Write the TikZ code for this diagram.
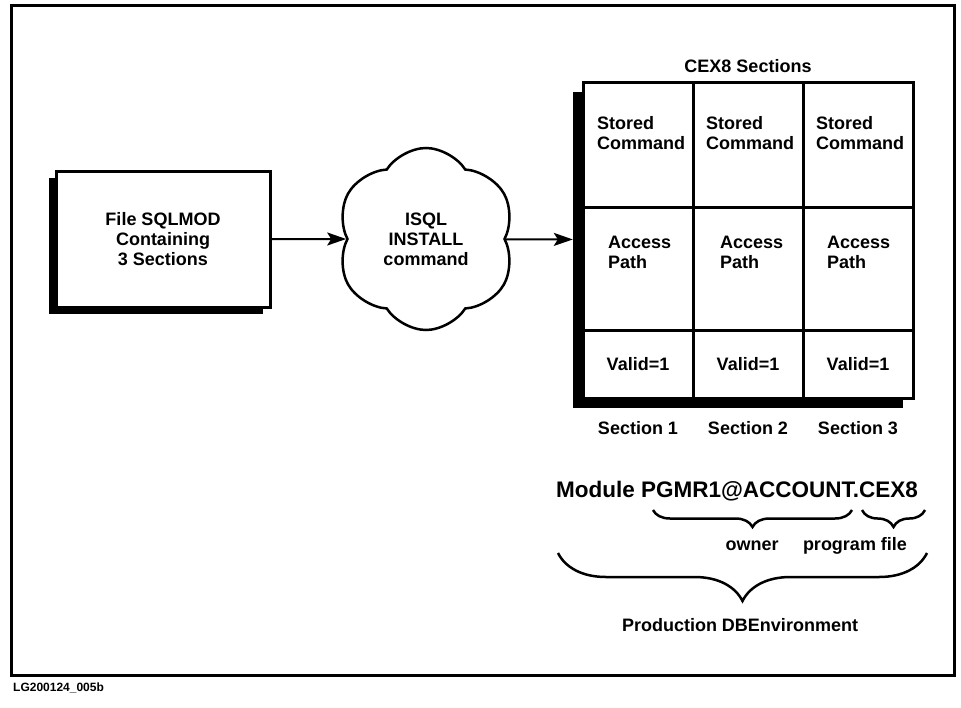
\documentclass[tikz,border=0pt]{standalone}
\usepackage{fontspec}
\setmainfont{Liberation Sans}
\usepackage{tikz}
\usetikzlibrary{shapes.symbols, arrows.meta, positioning, fit, backgrounds, shadows, decorations.pathreplacing}

\begin{document}
\begin{tikzpicture}[
    x=1pt, y=-1pt,
    font=\bfseries\fontsize{18}{20}\selectfont,
    frame/.style={draw, line width=3pt},
    filebox/.style={rectangle, draw, line width=3pt, fill=white, 
                minimum width=214pt, minimum height=136pt, align=center,
                drop shadow={shadow xshift=-7pt, shadow yshift=-7pt, fill=black, opacity=1}},
    cmdcloud/.style={cloud, draw, line width=2.5pt, cloud puffs=6, cloud puff arc=115,
                minimum width=180pt, minimum height=182pt, align=center, inner sep=0pt},
    cell/.style={rectangle, draw, line width=3pt, minimum width=110pt, 
                inner sep=0pt, outer sep=0pt},
    celltext/.style={inner sep=0pt, align=left},
    caption/.style={inner sep=0pt},
    underbrace/.style={decorate, decoration={brace, mirror, amplitude=#1}, line width=2.5pt},
    arrow/.style={-{Stealth[length=19pt, width=13pt, inset=4pt]}, line width=2pt}
]
    \useasboundingbox (0,0) rectangle (961,707);
    \draw[frame] (11,5) rectangle (954,675);

    % Nodes
    \node[filebox] (sqlmod) at (163,239) {File SQLMOD\\Containing\\3 Sections};
    \node[cmdcloud] (isql) at (426,239) {ISQL\\INSTALL\\command};

    % Section grid
    \node[cell, minimum height=125pt, anchor=north west] (c11) at (583,82) {};
    \node[cell, minimum height=125pt, right=0pt of c11] (c12) {};
    \node[cell, minimum height=125pt, right=0pt of c12] (c13) {};
    \node[cell, minimum height=123pt, below=0pt of c11] (c21) {};
    \node[cell, minimum height=123pt, below=0pt of c12] (c22) {};
    \node[cell, minimum height=123pt, below=0pt of c13] (c23) {};
    \node[cell, minimum height=68pt, below=0pt of c21] (c31) {Valid=1};
    \node[cell, minimum height=68pt, below=0pt of c22] (c32) {Valid=1};
    \node[cell, minimum height=68pt, below=0pt of c23] (c33) {Valid=1};
    \begin{scope}[on background layer]
        \node[fit=(c11)(c33), inner sep=0pt, fill=white,
              drop shadow={shadow xshift=-10pt, shadow yshift=-10pt, fill=black, opacity=1}] (sections) {};
    \end{scope}

    \node[celltext, below right=34pt and 14pt of c11.north west] (stored1) {Stored\\Command};
    \node[celltext, below right=34pt and 13pt of c12.north west] (stored2) {Stored\\Command};
    \node[celltext, below right=34pt and 13pt of c13.north west] (stored3) {Stored\\Command};
    \node[celltext, below right=29pt and 25pt of c21.north west] (access1) {Access\\Path};
    \node[celltext, below right=29pt and 27pt of c22.north west] (access2) {Access\\Path};
    \node[celltext, below right=29pt and 24pt of c23.north west] (access3) {Access\\Path};

    \node[caption, above=9pt of c12] (title) {CEX8 Sections};
    \node[caption, below=23pt of c31] (sec1) {Section 1};
    \node[caption, below=23pt of c32] (sec2) {Section 2};
    \node[caption, below=23pt of c33] (sec3) {Section 3};

    % Module name
    \node[anchor=base, inner sep=0pt, font=\bfseries\fontsize{22.5}{26}\selectfont] (module) at (737,497) {Module PGMR1@ACCOUNT.CEX8};
    \draw[underbrace=17pt] (653,510) -- (852,510);
    \draw[underbrace=17pt] (862,510) -- (925,510);
    \node[anchor=base, inner sep=0pt] (owner) at (752,550) {owner};
    \node[anchor=base, inner sep=0pt] (progfile) at (855,550) {program file};
    \draw[underbrace=48pt] (558,553) -- (927,553);
    \node[anchor=base, inner sep=0pt] (dbenv) at (740,631) {Production DBEnvironment};

    \node[anchor=base west, inner sep=0pt, font=\bfseries\fontsize{12}{14}\selectfont] (figid) at (13,691) {LG200124\_005b};

    % Arrows
    \draw[arrow] (sqlmod) -- (isql);
    \draw[arrow, shorten >=10pt] (isql) -- (sections);
\end{tikzpicture}
\end{document}
